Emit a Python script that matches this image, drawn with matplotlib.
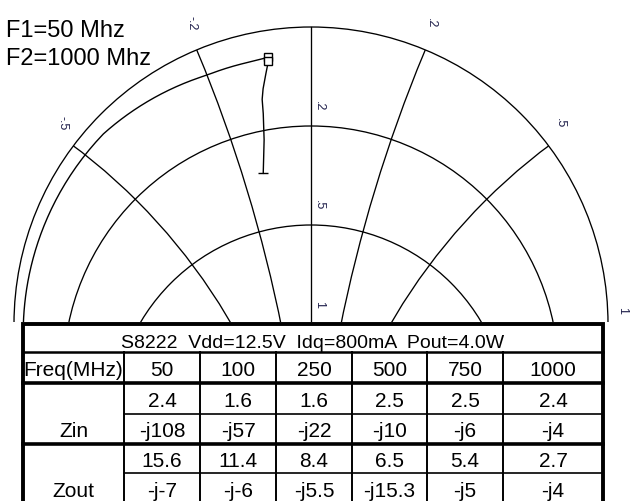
import numpy as np
import matplotlib
matplotlib.use("Agg")
import matplotlib.pyplot as plt
import matplotlib.transforms as mtransforms
from matplotlib.patches import Circle, Rectangle
from matplotlib.path import Path

plt.rcParams['font.family'] = ['Liberation Sans', 'DejaVu Sans']

# impedance data (ohms), 50 ohm system
Z0 = 50.0
freqs = [50, 100, 250, 500, 750, 1000]
zin_r = [2.4, 1.6, 1.6, 2.5, 2.5, 2.4]
zin_x = [-108, -57, -22, -10, -6, -4]
zout_r = [15.6, 11.4, 8.4, 6.5, 5.4, 2.7]
zout_x = [-7, -6, -5.5, -5.3, -5, -4]  # as drawn on the chart

# table text
title = "S8222  Vdd=12.5V  Idq=800mA  Pout=4.0W"
zin_r_txt = ["2.4", "1.6", "1.6", "2.5", "2.5", "2.4"]
zin_x_txt = ["-j108", "-j57", "-j22", "-j10", "-j6", "-j4"]
zout_r_txt = ["15.6", "11.4", "8.4", "6.5", "5.4", "2.7"]
zout_x_txt = ["-j-7", "-j-6", "-j5.5", "-j15.3", "-j5", "-j4"]

# smith grid
r_grid = [0.2, 0.5, 1]
x_grid = [0.2, 0.5, 1]


class SmithTransform(mtransforms.Transform):
    """normalised z -> gamma, rotated so the short is on top"""
    input_dims = output_dims = 2

    def transform_non_affine(self, values):
        values = np.asarray(values, dtype=float).reshape(-1, 2)
        z = values[:, 0] + 1j * values[:, 1]
        g = (z - 1) / (z + 1)
        return np.column_stack([g.imag, -g.real])

    def transform_path_non_affine(self, path):
        ip = path.interpolated(60)
        return Path(self.transform_non_affine(ip.vertices), ip.codes)


W, H = 634, 502
CX, CY, RPX = 311, 325, 297
CLIP_Y = 323
LBL = '#1e1e4a'

fig = plt.figure(figsize=(W / 100, H / 100), dpi=100)

# ---- smith chart ----
ax = fig.add_axes([0, (H - CLIP_Y) / H, 1, CLIP_Y / H])
ax.axis('off')
xmin, xmax = -CX / RPX, (W - CX) / RPX

outer = Circle((0, 0), 1, fill=False, ec='k', lw=0.95)
ax.add_patch(outer)
for r in r_grid:
    c = Circle((0, -r / (1 + r)), 1 / (1 + r), fill=False, ec='k', lw=0.95)
    ax.add_patch(c)
    c.set_clip_path(outer)
    ax.text(0.027, (1 - r) / (1 + r) + 0.07, str(r).replace('0.', '.'),
            rotation=-90, ha='center', va='center', fontsize=9, color=LBL)
for x in x_grid:
    for s in (1, -1):
        c = Circle((1 / (s * x), -1), 1 / x, fill=False, ec='k', lw=0.95)
        ax.add_patch(c)
        c.set_clip_path(outer)
        g = ((x * x - 1) + 2j * s * x) / (x * x + 1)
        lx, ly = g.imag * 1.047, -g.real * 1.047 + 0.05
        if not (xmin + 0.03 < lx < xmax - 0.03):
            continue  # off the page
        lab = str(x).replace('0.', '.')
        if s < 0:
            lab = '-' + lab
        ax.text(lx, ly, lab, rotation=-90, ha='center', va='center',
                fontsize=9, color=LBL, clip_on=False)
ax.plot([0, 0], [-1, 1], color='k', lw=0.95)

tr = SmithTransform() + ax.transData
zin = (np.array(zin_r) / Z0, np.array(zin_x) / Z0)
zout = (np.array(zout_r) / Z0, np.array(zout_x) / Z0)
for zr, zx in (zin, zout):
    ax.plot(zr, zx, color='k', lw=1.0, transform=tr)
    ax.plot(zr[:1], zx[:1], marker='_', ms=7, mew=1.0, color='k', transform=tr)
    ax.plot(zr[-1:], zx[-1:], marker='s', ms=6, mew=1.0, mfc='white',
            mec='k', transform=tr)

ax.set_xlim(xmin, xmax)
ax.set_ylim((CY - CLIP_Y) / RPX, CY / RPX)

# ---- frequency note ----
tab = fig.add_axes([0, 0, 1, 1], zorder=3)
tab.set_xlim(0, W)
tab.set_ylim(H, 0)
tab.axis('off')
tab.patch.set_alpha(0)
tab.text(6, 37, "F1=%d Mhz" % freqs[0], fontsize=17, va='baseline')
tab.text(6, 65, "F2=%d Mhz" % freqs[-1], fontsize=17, va='baseline')

# ---- table ----
cols = [23, 124, 200, 276, 352, 427, 503, 603]
rows = [325, 353, 384, 415, 445, 474, 505]
tab.add_patch(Rectangle((cols[0], rows[0]), cols[-1] - cols[0], 200,
                        fc='white', ec='k', lw=2.8, clip_on=False))
tab.plot([cols[0], cols[-1]], [rows[1]] * 2, color='k', lw=1.8)
for y in (rows[2], rows[4]):
    tab.plot([cols[0], cols[-1]], [y, y], color='k', lw=2.6)
for y in (rows[3], rows[5]):
    tab.plot([cols[1], cols[-1]], [y, y], color='k', lw=1.2)
for x in cols[1:-1]:
    tab.plot([x, x], [rows[1], 510], color='k', lw=1.4, clip_on=False)

FS = 15
off = 7.5
tab.text((cols[0] + cols[-1]) / 2, (rows[0] + rows[1]) / 2 + 9.5,
         title, fontsize=14, ha='center', va='baseline')


def cell(col, row, s):
    xc = (cols[col] + cols[col + 1]) / 2
    yc = (rows[row] + rows[row + 1]) / 2
    tab.text(xc, yc + off, s, fontsize=FS, ha='center', va='baseline')


cell(0, 1, "Freq(MHz)")
for i, f in enumerate(freqs):
    cell(i + 1, 1, str(f))
    cell(i + 1, 2, zin_r_txt[i])
    cell(i + 1, 3, zin_x_txt[i])
    cell(i + 1, 4, zout_r_txt[i])
    cell(i + 1, 5, zout_x_txt[i])
cell(0, 3, "Zin")
cell(0, 5, "Zout")

fig.savefig('out.png', dpi=100)
